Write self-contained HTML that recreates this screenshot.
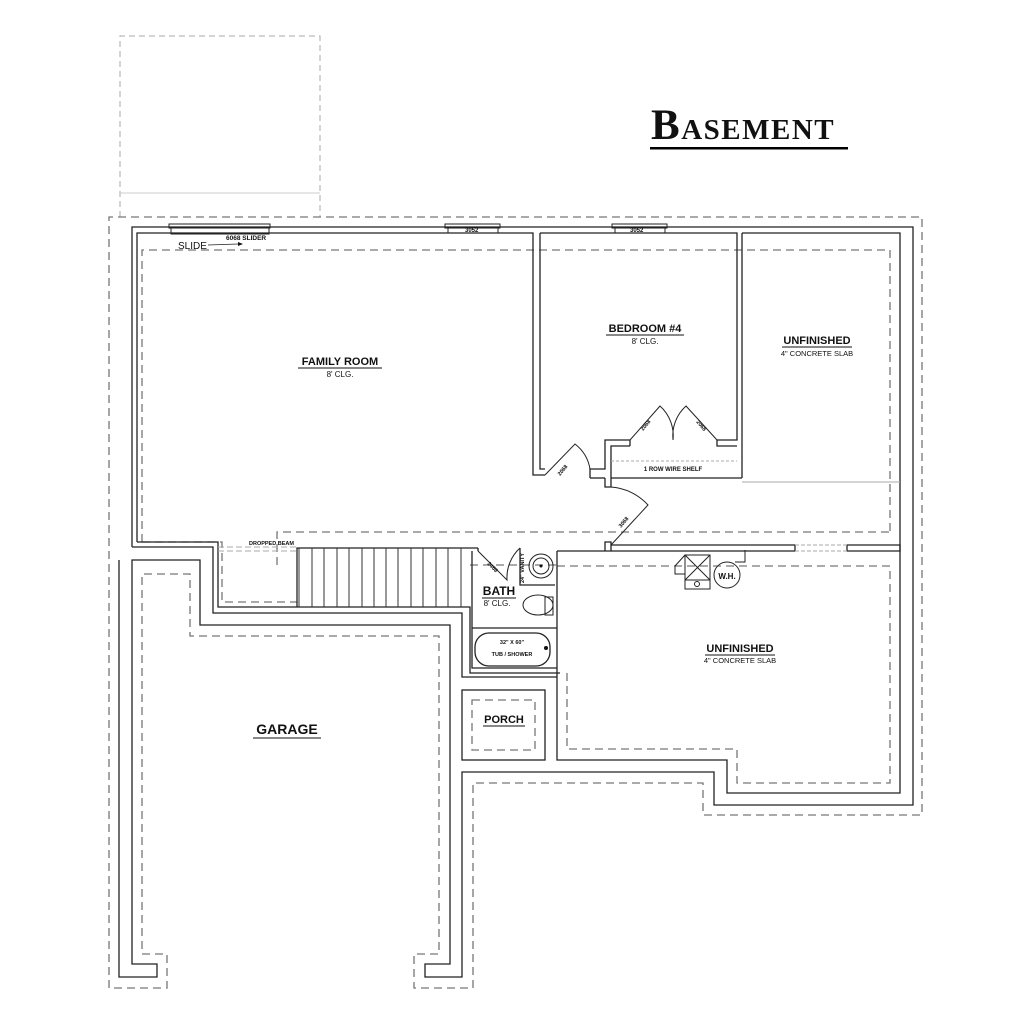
<!DOCTYPE html>
<html><head><meta charset="utf-8"><style>
html,body{margin:0;padding:0;background:#fff;}
svg{display:block}
text{font-family:"Liberation Sans",Arial,sans-serif;fill:#111}
</style></head><body>
<svg width="1024" height="1024" viewBox="0 0 1024 1024" xmlns="http://www.w3.org/2000/svg">
<rect width="1024" height="1024" fill="#fff"/>
<!-- title -->
<text x="651" y="139" style="font-family:'Liberation Serif',serif" font-size="43" font-weight="bold" letter-spacing="1.5" fill="#000">B<tspan font-size="29">ASEMENT</tspan></text>
<rect x="650" y="147" width="198" height="2.5" fill="#000"/>

<!-- deck (top-left) -->
<g fill="none" stroke="#aaa" stroke-width="1">
<path d="M120 217 V36 H320 V217" stroke-dasharray="6 4"/>
<line x1="120" y1="193" x2="320" y2="193" stroke="#ccc"/>
</g>

<!-- outer dashed footing -->
<g fill="none" stroke="#777" stroke-width="1.3" stroke-dasharray="8 5">
<path d="M109 988 V217 H922 V815 H703 V783 H473 V988 H414 V954 H439 V636 H190 V574 H142 V954 H167 V988 Z"/>
<path d="M142 542 V250 H890 V533"/>
<path d="M142 542 H222 V602 H297"/>
<path d="M277 565 V532 H890"/>
<path d="M557 566 H890 V783 H737 V749 H567 V668"/>
<rect x="472" y="700" width="63" height="50"/>
<path d="M470 565 H557"/>
</g>

<!-- solid walls -->
<g fill="none" stroke="#222" stroke-width="1.3">
<path d="M132 547 V227 H913 V805 H714 V772 H462 V977 H425 V964 H450 V625 H200 V560 H132 V964 H157 V977 H119 V560" />
<path d="M137 542 V233 H533 V475 H545"/>
<path d="M540 233 V469 H545"/>
<path d="M540 233 H737 V440 H717"/>
<path d="M742 233 H900 V793 H727 V760 H557 V551"/>
<path d="M742 233 V478"/>
<path d="M137 542 H218 V607 H470 V673 H560"/>
<path d="M132 547 H213 V613 H462 V677 H557"/>
<path d="M297 607 V548 H478"/>
<path d="M590 478 V469 H605 V440 H630"/>
<path d="M590 478 H605"/>
<path d="M611 478 V446 H630"/>
<path d="M630 440 V446"/>
<path d="M717 440 V446 H737"/>
<path d="M611 478 H742"/>
<path d="M605 478 V487 H611 V478"/>
<path d="M557 551 H605 V542 H611 V551 H557"/>
<path d="M611 545 H795 V551 H611"/>
<path d="M847 545 H900 V551 H847 Z"/>
<path d="M472 551 V668 H557"/>
<path d="M478 548 V551"/>
<path d="M520 548 V585 H555"/>
<path d="M472 628 H557"/>
<rect x="475" y="633" width="75" height="33" rx="14"/>
<rect x="462" y="690" width="83" height="70"/>
</g>
<g stroke="#aaa" stroke-width="1" fill="none">
<line x1="742" y1="482" x2="900" y2="482"/>
<path d="M218 547 H297 M218 551 H297" stroke-dasharray="6 3"/>
<line x1="611" y1="461" x2="737" y2="461" stroke-dasharray="3 2"/>
<path d="M795 545 H847 M795 551 H847" stroke-dasharray="4 2"/>
</g>
<g stroke="#333" stroke-width="1">
<line x1="299" y1="548" x2="299" y2="607"/><line x1="312" y1="548" x2="312" y2="607"/>
<line x1="324" y1="548" x2="324" y2="607"/><line x1="337" y1="548" x2="337" y2="607"/>
<line x1="349" y1="548" x2="349" y2="607"/><line x1="362" y1="548" x2="362" y2="607"/>
<line x1="374" y1="548" x2="374" y2="607"/><line x1="386" y1="548" x2="386" y2="607"/>
<line x1="398" y1="548" x2="398" y2="607"/><line x1="411" y1="548" x2="411" y2="607"/>
<line x1="423" y1="548" x2="423" y2="607"/><line x1="436" y1="548" x2="436" y2="607"/>
<line x1="448" y1="548" x2="448" y2="607"/><line x1="461" y1="548" x2="461" y2="607"/>
</g>
<g fill="none" stroke="#222" stroke-width="1">
<path d="M545 475 L575 444 A40 40 0 0 1 590 469"/>
<path d="M630 440 L660 406 A40 40 0 0 1 673 440"/>
<path d="M717 440 L686 406 A40 40 0 0 0 673 440"/>
<path d="M611 545 L648 505 A55 55 0 0 0 611 487"/>
<path d="M478 551 L507 580 A40 40 0 0 1 520 548"/>
</g>
<g fill="none" stroke="#222" stroke-width="1">
<rect x="169" y="224" width="101" height="4"/>
<rect x="171" y="228" width="98" height="6"/>
<rect x="445" y="224" width="55" height="4"/>
<rect x="448" y="228" width="50" height="5"/>
<rect x="612" y="224" width="55" height="4"/>
<rect x="615" y="228" width="50" height="5"/>
</g>
<g fill="none" stroke="#222" stroke-width="1">
<circle cx="541" cy="566" r="12"/><circle cx="541" cy="566" r="8"/>
<ellipse cx="538" cy="605" rx="15" ry="10"/>
<rect x="545" y="597" width="8" height="18"/>
<rect x="685" y="555" width="25" height="25"/>
<path d="M685 555 L710 580 M710 555 L685 580"/>
<rect x="685" y="580" width="25" height="9"/>
<circle cx="697" cy="584" r="2.5"/>
<path d="M685 555 L675 566 V574 H685"/>
<circle cx="727" cy="575" r="13"/>
<path d="M735 562 H745 V550"/>
</g>
<circle cx="546" cy="648" r="2" fill="#111"/>
<circle cx="541" cy="566" r="1.5" fill="#111"/>

<g font-weight="bold">
<text x="340" y="365" font-size="11" text-anchor="middle">FAMILY ROOM</text>
<text x="645" y="332" font-size="11" text-anchor="middle">BEDROOM #4</text>
<text x="817" y="344" font-size="11" text-anchor="middle">UNFINISHED</text>
<text x="740" y="652" font-size="11" text-anchor="middle">UNFINISHED</text>
<text x="287" y="734" font-size="14" text-anchor="middle">GARAGE</text>
<text x="504" y="723" font-size="11" text-anchor="middle">PORCH</text>
<text x="499" y="595" font-size="12" text-anchor="middle">BATH</text>
<text x="226" y="240" font-size="6.5">6068 SLIDER</text>
<text x="465" y="232" font-size="6">3052</text>
<text x="630" y="232" font-size="6">3052</text>
<text x="673" y="471" font-size="6" text-anchor="middle">1 ROW WIRE SHELF</text>
<text x="249" y="545" font-size="5.5">DROPPED BEAM</text>
<text x="512" y="644" font-size="5.5" text-anchor="middle">32" X 60"</text>
<text x="512" y="656" font-size="5.5" text-anchor="middle">TUB / SHOWER</text>
<text x="727" y="579" font-size="8" text-anchor="middle">W.H.</text>
<text font-size="5.5" transform="translate(560,476) rotate(-50)">2068</text>
<text font-size="5.5" transform="translate(643,431) rotate(-50)">2068</text>
<text font-size="5.5" transform="translate(696,422) rotate(50)">2068</text>
<text font-size="5.5" transform="translate(621,528) rotate(-50)">3068</text>
<text font-size="5.5" transform="translate(487,564) rotate(45)">2468</text>
<text font-size="5.5" transform="translate(524,583) rotate(-90)">24" VANITY</text>
</g>
<g stroke="#111" stroke-width="1">
<line x1="298" y1="368" x2="382" y2="368"/>
<line x1="606" y1="335" x2="684" y2="335"/>
<line x1="782" y1="347" x2="852" y2="347"/>
<line x1="705" y1="655" x2="775" y2="655"/>
<line x1="253" y1="738" x2="321" y2="738"/>
<line x1="483" y1="726" x2="525" y2="726"/>
<line x1="482" y1="598" x2="516" y2="598"/>
</g>
<g font-size="8">
<text x="340" y="377" text-anchor="middle">8' CLG.</text>
<text x="645" y="344" text-anchor="middle">8' CLG.</text>
<text x="817" y="356" text-anchor="middle" font-size="7.5">4" CONCRETE SLAB</text>
<text x="740" y="663" text-anchor="middle" font-size="7.5">4" CONCRETE SLAB</text>
<text x="497" y="606" text-anchor="middle">8' CLG.</text>
</g>
<text x="178" y="249" font-size="10" fill="#333">SLIDE</text>
<path d="M208 245 L238 244" stroke="#222" stroke-width="0.8"/>
<path d="M238 242 L243 244 L238 246 Z" fill="#111"/>
</svg>
</body></html>
